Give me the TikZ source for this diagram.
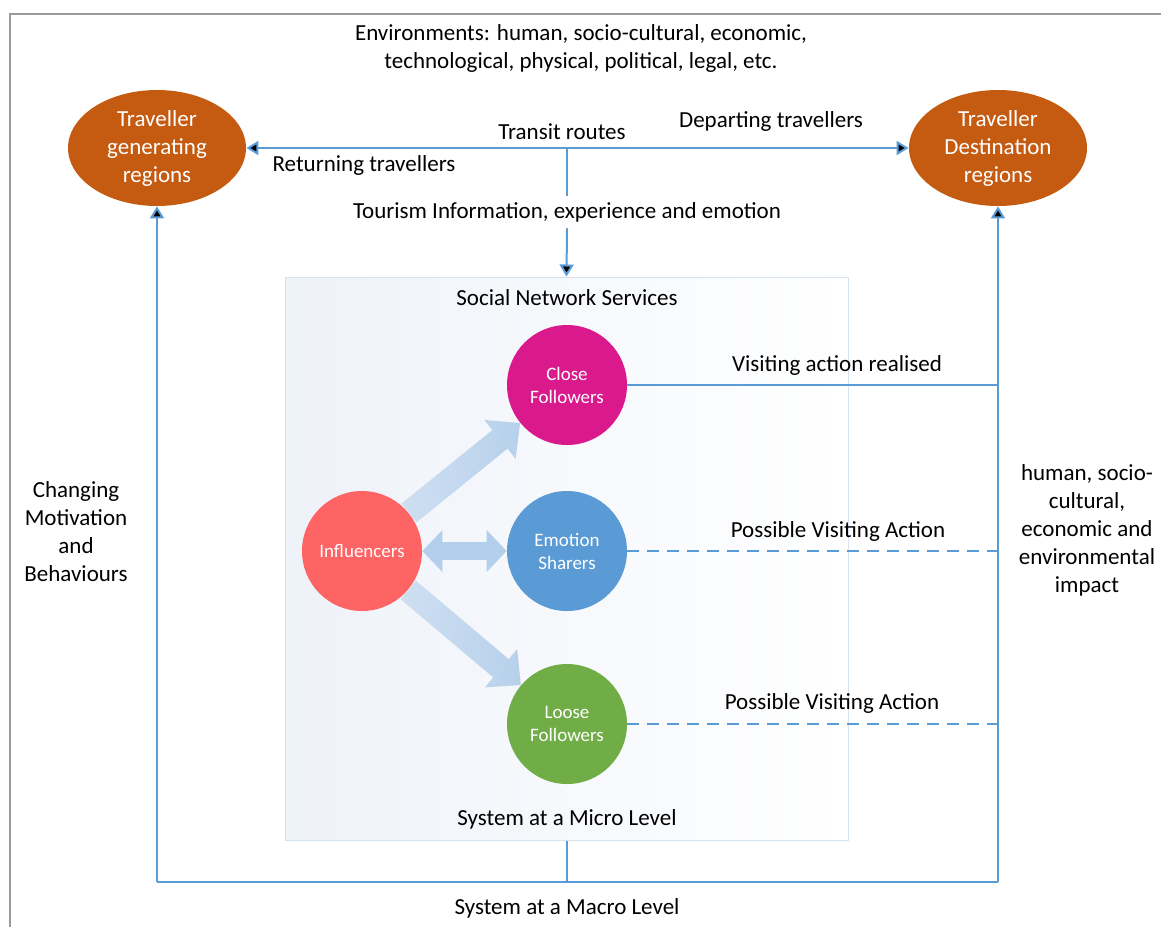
\documentclass[tikz,border=0pt]{standalone}
\usepackage{fontspec}
\setmainfont{Carlito}
\usetikzlibrary{arrows.meta,positioning,shapes.geometric,fadings}

\definecolor{regionorange}{HTML}{C55A11}
\definecolor{linkblue}{HTML}{5B9BD5}
\definecolor{flowblue}{HTML}{B4CFEB}
\definecolor{closepink}{HTML}{DA1A8C}
\definecolor{inflred}{HTML}{FF6464}
\definecolor{emoblue}{HTML}{5B9BD5}
\definecolor{loosegreen}{HTML}{70AD47}
\definecolor{snsfill}{HTML}{EEF2F9}
\definecolor{snsedge}{HTML}{D6E2F0}
\definecolor{framegray}{HTML}{9A9A9A}

\tikzfading[name=soft west,left color=transparent!45,right color=transparent!0]

\begin{document}
\begin{tikzpicture}[x=0.5pt,y=-0.5pt,>={Triangle[width=7pt,length=6pt]},node distance=83pt,
    region node/.style={ellipse,fill=regionorange,text=white,minimum width=89pt,minimum height=58pt,inner sep=0pt,align=center,font=\fontsize{11.5}{14}\selectfont},
    main node/.style={circle,minimum size=60pt,inner sep=0pt,text=white,align=center,font=\fontsize{9.5}{11.5}\selectfont},
    label text/.style={align=center,inner sep=1pt,font=\fontsize{11.5}{14}\selectfont},
    link/.style={draw=linkblue,line width=1pt},
    flow arrow/.style={draw=flowblue,line width=12pt,path fading=soft west,-{Triangle[width=25pt,length=13pt,line width=0pt]}},
    share arrow/.style={draw=flowblue,line width=9pt,{Triangle[width=21pt,length=10pt,line width=0pt]}-{Triangle[width=21pt,length=10pt,line width=0pt]}}]

            \useasboundingbox (0,0) rectangle (1161,927);
            % frame
            \draw[framegray,line width=0.8pt] (10,927) -- (10,14) -- (1161,14);

            % macro level
            \node[region node] (gen) at (157,148) {Traveller\\generating\\regions};
            \node[region node] (dest) at (998,148) {Traveller\\Destination\\regions};
            \node[label text] (env) at (581,48) {Environments: human, socio-cultural, economic,\\technological, physical, political, legal, etc.};
            \coordinate (hub) at (567,147);
            \node[label text] (transit) at (562,132) {Transit routes};
            \node[label text] (depart) at (771,121) {Departing travellers};
            \node[label text] (return) at (364,165) {Returning travellers};
            \node[label text,inner sep=3pt] (info) at (567,212) {Tourism Information, experience and emotion};

            % micro level
            \node[draw=snsedge,line width=0.5pt,left color=snsfill,right color=white,minimum width=281.5pt,minimum height=281.5pt,inner sep=0pt] (sns) at (566.5,558.5) {};
            \node[label text] (snstitle) at (567,298) {Social Network Services};
            \node[label text] (micro) at (567,819) {System at a Micro Level};

            \node[main node,fill=emoblue] (emo) at (567,551) {Emotion\\Sharers};
            \node[main node,fill=closepink] (close) [above of = emo] {Close\\Followers};
            \node[main node,fill=loosegreen,node distance=86.5pt] (loose) [below of = emo] {Loose\\Followers};
            \node[main node,fill=inflred,node distance=102.5pt] (infl) [left of = emo] {Influencers};

            \draw[flow arrow] (infl) -- (close);
            \draw[flow arrow] (infl) -- (loose);
            \draw[share arrow] (infl) -- (emo);

            \coordinate (macroL) at (157,882);
            \coordinate (macroR) at (998,882);

            \node[label text] (realised) at (837,365) {Visiting action realised};
            \node[label text] (possible1) at (838,531) {Possible Visiting Action};
            \node[label text] (possible2) at (832,703) {Possible Visiting Action};
            \node[label text] (motiv) at (76,532) {Changing\\Motivation\\and\\Behaviours};
            \node[label text] (impact) at (1087,530) {human, socio-\\cultural,\\economic and\\environmental\\impact};
            \node[label text] (macro) at (567,908) {System at a Macro Level};

            \path[link]
                (gen) edge[<->] (dest)
                (hub) edge (info.north)
                (info.south) edge[->] (sns.north)
                (close.east) edge (close.east -| macroR)
                (emo.east) edge[dash pattern=on 6pt off 4pt] (emo.east -| macroR)
                (loose.east) edge[dash pattern=on 6pt off 4pt] (loose.east -| macroR)
                (sns.south) edge (sns.south |- macroL)
                (macroL) edge (macroR)
                (macroL) edge[->] (gen)
                (macroR) edge[->] (dest)
                ;
        \end{tikzpicture}
\end{document}
